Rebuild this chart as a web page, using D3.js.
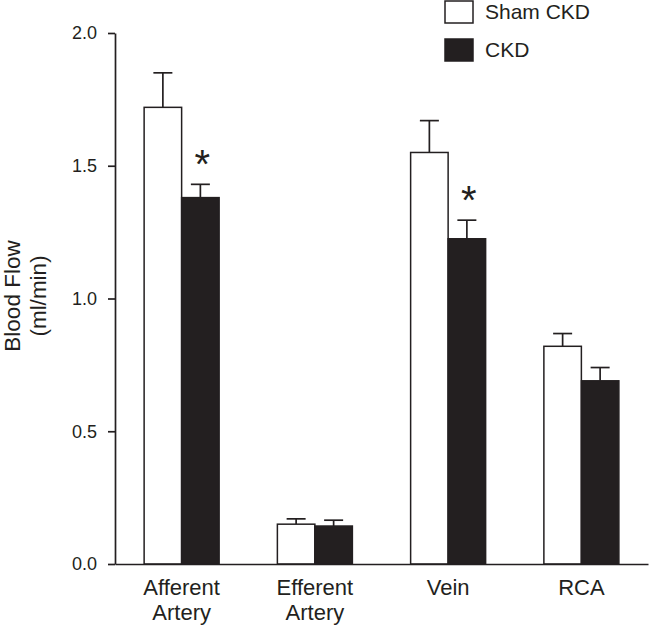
<!DOCTYPE html>
<html><head><meta charset="utf-8">
<script src="https://cdn.jsdelivr.net/npm/d3@7"></script>
<style>body{margin:0;background:#fff}svg{display:block}text{font-family:"Liberation Sans",Arial,sans-serif;fill:#231f20}</style>
</head><body>
<svg id="c" width="650" height="629"></svg>
<script>
const categories = [["Afferent","Artery"],["Efferent","Artery"],["Vein"],["RCA"]];
const series = ["Sham CKD","CKD"];
const shamValues = [1.72, 0.15, 1.55, 0.82];
const shamErr = [0.13, 0.02, 0.12, 0.048];
const ckdValues = [1.38, 0.143, 1.225, 0.69];
const ckdErr = [0.05, 0.022, 0.07, 0.05];
const significant = [true, false, true, false];
const yTicks = [0, 0.5, 1.0, 1.5, 2.0];

const svg = d3.select("#c");
const ink = "#231f20";
const x0 = d3.scaleBand().domain(d3.range(categories.length)).range([115, 648]).padding(0);
const y = d3.scaleLinear().domain([0, 2]).range([564, 33]);
const bw = 37.5;

const groups = [
  {vals: shamValues, err: shamErr, fill: "#fff", off: -bw},
  {vals: ckdValues, err: ckdErr, fill: ink, off: 0}
];
groups.forEach(g => {
  g.vals.forEach((v, i) => {
    const cx = x0(i) + x0.bandwidth()/2;
    const xl = cx + g.off;
    const top = y(v + g.err[i]);
    svg.append("line").attr("x1", xl + bw/2).attr("x2", xl + bw/2).attr("y1", y(v)).attr("y2", top)
      .attr("stroke", ink).attr("stroke-width", 1.7);
    svg.append("line").attr("x1", xl + bw/2 - 9.5).attr("x2", xl + bw/2 + 9.5).attr("y1", top).attr("y2", top)
      .attr("stroke", ink).attr("stroke-width", 1.7);
    svg.append("rect").attr("x", xl).attr("y", y(v)).attr("width", bw).attr("height", y(0) - y(v))
      .attr("fill", g.fill).attr("stroke", ink).attr("stroke-width", 1.5);
  });
});

significant.forEach((s, i) => {
  if (!s) return;
  const cx = x0(i) + x0.bandwidth()/2 + bw/2;
  svg.append("text").attr("x", cx + 2).attr("y", y(ckdValues[i] + ckdErr[i]) - 6)
    .attr("text-anchor", "middle").attr("font-size", 40).text("*");
});

const yAxis = d3.axisLeft(y).tickValues(yTicks).tickFormat(d3.format(".1f")).tickSize(7).tickSizeOuter(0).tickPadding(11);
const ya = svg.append("g").attr("transform", "translate(115,0)").call(yAxis);
ya.select(".domain").attr("stroke", ink).attr("stroke-width", 1.7);
ya.selectAll(".tick line").attr("stroke", ink).attr("stroke-width", 1.7);
ya.selectAll(".tick text").attr("font-size", 18).attr("fill", ink).style("font-family", "Liberation Sans, Arial, sans-serif");

const xAxis = d3.axisBottom(x0).tickSize(0).tickSizeOuter(0).tickFormat("");
const xa = svg.append("g").attr("transform", "translate(0,564)").call(xAxis);
xa.select(".domain").attr("stroke", ink).attr("stroke-width", 1.7);
categories.forEach((lines, i) => {
  const cx = x0(i) + x0.bandwidth()/2;
  const t = svg.append("text").attr("x", cx).attr("y", 595).attr("text-anchor", "middle").attr("font-size", 22);
  lines.forEach((l, k) => t.append("tspan").attr("x", cx).attr("dy", k === 0 ? 0 : 25).text(l));
});

const yl = svg.append("text").attr("transform", "translate(20,296) rotate(-90)").attr("text-anchor", "middle").attr("font-size", 22.5);
yl.append("tspan").attr("x", 0).attr("dy", 0).text("Blood Flow");
yl.append("tspan").attr("x", 0).attr("dy", 26).text("(ml/min)");

series.forEach((s, k) => {
  const yy = 1 + k * 38;
  svg.append("rect").attr("x", 445).attr("y", yy).attr("width", 28).attr("height", 22)
    .attr("fill", k === 0 ? "#fff" : ink).attr("stroke", ink).attr("stroke-width", 1.5);
  svg.append("text").attr("x", 485).attr("y", yy + 18).attr("font-size", 21).text(s);
});
</script>
</body></html>
